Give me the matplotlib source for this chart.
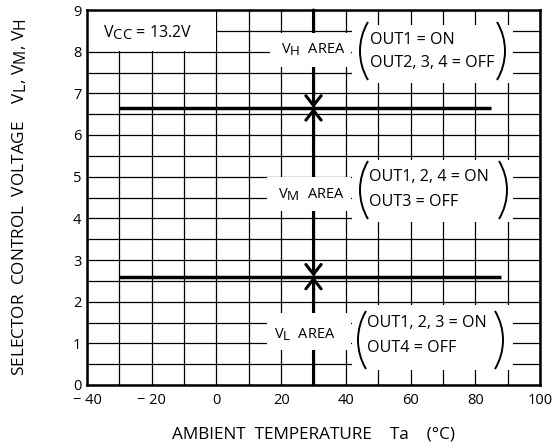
import math
import matplotlib
matplotlib.use('Agg')
import matplotlib.pyplot as plt
from matplotlib.patches import Rectangle, Arc, ArrowStyle
import matplotlib.transforms as mtransforms
try:
    import matplotlib._mathtext as _mt
    _mt.SHRINK_FACTOR = 0.92
except Exception:
    pass

plt.rcParams['font.family'] = ['Open Sans', 'DejaVu Sans']

# ---- data ----
vh_temp = [-30, 85]        # V_H threshold line extent (degC)
vh_level = [6.65, 6.65]    # V_H threshold (V)
vl_temp = [-30, 88]        # V_L threshold line extent (degC)
vl_level = [2.6, 2.6]      # V_L threshold (V)
ta_marker = 30             # temperature of the area arrows
xticks = [-40, -20, 0, 20, 40, 60, 80, 100]
xticklabels = ['\u2212 40', '\u2212 20', '0', '20', '40', '60', '80', '100']
yticks = [0, 1, 2, 3, 4, 5, 6, 7, 8, 9]
area_labels = [r'$\mathregular{V_H}$  AREA', r'$\mathregular{V_M}$  AREA', r'$\mathregular{V_L}$  AREA']
area_lines = [('OUT1 = ON', 'OUT2, 3, 4 = OFF'),
              ('OUT1, 2, 4 = ON', 'OUT3 = OFF'),
              ('OUT1, 2, 3 = ON', 'OUT4 = OFF')]
vcc_label = r'$\mathregular{V_{CC}}$ = 13.2V'

fig = plt.figure(figsize=(5.55, 4.47), dpi=100)
ax = fig.add_axes([87/555, 1-385/447, 453/555, 375/447])
ax.set_xlim(-40, 100)
ax.set_ylim(0, 9)

ax.set_xticks(xticks)
ax.set_xticklabels(xticklabels)
ax.set_xticks(list(range(-40, 101, 10)), minor=True)
ax.set_yticks(yticks)
ax.set_yticks([v / 2 for v in range(0, 19)], minor=True)
ax.tick_params(which='both', length=0)
ax.tick_params(axis='x', pad=6, labelsize=10.5)
ax.tick_params(axis='y', pad=4, labelsize=10.5)
ax.grid(which='both', color='black', lw=0.9)
for s in ax.spines.values():
    s.set_linewidth(1.8)
    s.set_zorder(6)

ax.set_xlabel('AMBIENT  TEMPERATURE    Ta    (\u00b0C)', fontsize=12.3, labelpad=13)
ax.set_ylabel(r'SELECTOR  CONTROL  VOLTAGE    $\mathregular{V_L}$, $\mathregular{V_M}$, $\mathregular{V_H}$', fontsize=12.4)
ax.yaxis.set_label_coords(-0.127, 0.5)

# threshold lines
ax.plot(vh_temp, vh_level, color='black', lw=2.5, solid_capstyle='butt', zorder=3)
ax.plot(vl_temp, vl_level, color='black', lw=2.5, solid_capstyle='butt', zorder=3)

# arrows
st = ArrowStyle('->', head_length=0.7, head_width=0.55)
st2 = ArrowStyle('<->', head_length=0.7, head_width=0.55)
ap = dict(lw=2.2, color='black', shrinkA=0, shrinkB=0, mutation_scale=10)
ax.annotate('', xy=(ta_marker, vh_level[0]), xytext=(ta_marker, 9), arrowprops=dict(arrowstyle=st, **ap), zorder=3)
ax.annotate('', xy=(ta_marker, vh_level[0]), xytext=(ta_marker, vl_level[0]), arrowprops=dict(arrowstyle=st2, **ap), zorder=3)
ax.annotate('', xy=(ta_marker, vl_level[0]), xytext=(ta_marker, 0), arrowprops=dict(arrowstyle=st, **ap), zorder=3)

# white masks
def px2x(px):
    return -40 + (px - 87) * 140 / 453
def py2y(py):
    return 9 - (py - 10) * 9 / 375
def mask(px0, px1, py0, py1):
    x0, x1 = px2x(px0), px2x(px1)
    y0, y1 = py2y(py1), py2y(py0)
    ax.add_patch(Rectangle((x0, y0), x1 - x0, y1 - y0, facecolor='white', edgecolor='none', zorder=4))

mask(87, 216.5, 10, 50.5)      # Vcc box
mask(270, 351, 33, 67)         # V_H label
mask(352, 513, 25, 83)         # V_H paren
mask(267, 351, 177, 211)       # V_M label
mask(352, 513, 160, 222)       # V_M paren
mask(267, 351, 313, 350)       # V_L label
mask(352, 513, 305, 370)       # V_L paren

tk = dict(zorder=5, color='black')
ax.text(px2x(103), py2y(33), vcc_label, fontsize=11.5, ha='left', va='center', **tk)

lab_pos = [(313, 50), (311, 195), (305, 335)]
for (px, py), lab in zip(lab_pos, area_labels):
    ax.text(px2x(px), py2y(py), lab, fontsize=10.5, ha='center', va='center', **tk)

line_pos = [(370, 40, 63), (369, 177, 202), (367, 323, 348)]
for (px, py1, py2), (l1, l2) in zip(line_pos, area_lines):
    ax.text(px2x(px), py2y(py1), l1, fontsize=11.6, ha='left', va='center', **tk)
    ax.text(px2x(px), py2y(py2), l2, fontsize=11.6, ha='left', va='center', **tk)

def paren(side, bulge_px, cy_px, half=29.0, depth=8.0):
    r = (half ** 2 + depth ** 2) / (2 * depth)
    a = math.degrees(math.asin(half / r))
    if side == 'left':
        cx, t1, t2 = bulge_px + r, 180 - a, 180 + a
    else:
        cx, t1, t2 = bulge_px - r, -a, a
    tr = mtransforms.ScaledTranslation(px2x(cx), py2y(cy_px), ax.transData)
    ax.add_patch(Arc((0, 0), 2 * r, 2 * r, theta1=t1, theta2=t2, transform=tr,
                     color='black', lw=1.4, zorder=5))

paren_pos = [(360, 505, 51), (360, 507, 190), (358, 503, 340)]
for lx, rx, cy in paren_pos:
    paren('left', lx, cy)
    paren('right', rx, cy)

fig.savefig('out.png', dpi=100)
